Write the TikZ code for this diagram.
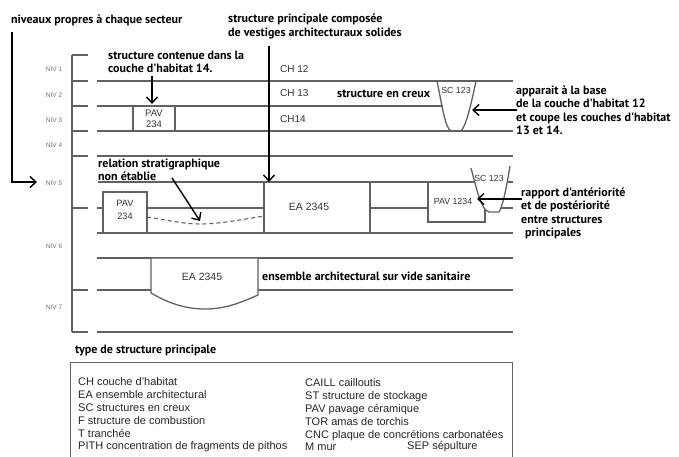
\documentclass[tikz,border=0pt]{standalone}
\usepackage{fontspec}
\setmainfont{Liberation Sans}
\newfontfamily\bfont{PT Sans}
\usetikzlibrary{arrows.meta}
\tikzset{
  ln/.style={draw=black!62, line width=1.3pt},
  thinln/.style={draw=black!60, line width=0.9pt},
  arr/.style={draw=black, line width=1.4pt, -{Straight Barb[length=6pt,width=11pt,line width=1.4pt]}},
  bt/.style={font=\bfont\bfseries\fontsize{12}{13.5}\selectfont, inner sep=0pt, anchor=west, align=left},
  niv/.style={font=\fontsize{6.5}{7}\selectfont, text=black!55, inner sep=0pt},
  lab/.style={font=\fontsize{9}{10}\selectfont, text=black!80, inner sep=0pt},
  leg/.style={font=\fontsize{11}{12.8}\selectfont, text=black!85, inner sep=0pt, anchor=west, align=left},
  whitebox/.style={ln, fill=white}
}
\begin{document}
\begin{tikzpicture}[x=1pt,y=-1pt]
\useasboundingbox[fill=white] (0,0) rectangle (679,457);

% bracket of levels
\draw[ln] (72,55) -- (72,332);
\foreach \yy in {55,81,106,131,156,208,290,332}
  \draw[ln] (72,\yy) -- (88,\yy);

% horizontal layer lines
\draw[ln] (97,81) -- (513,81);
\draw[ln] (97,106) -- (443,106);
\draw[ln] (97,131) -- (513,131);
\draw[ln] (97,156) -- (513,156);
\draw[ln] (98,182) -- (513,182);
\draw[ln] (97,208) -- (513,208);
\draw[ln] (97,233) -- (513,233);
\draw[ln] (97,258) -- (513,258);
\draw[ln] (97,290) -- (513,290);
\draw[ln] (97,332) -- (513,332);

% NIV labels
\node[niv] (n1) at (54,69) {NIV 1};
\node[niv] (n2) at (54,95) {NIV 2};
\node[niv] (n3) at (54,120) {NIV 3};
\node[niv] (n4) at (54,145) {NIV 4};
\node[niv] (n5) at (54,183) {NIV 5};
\node[niv] (n6) at (54,246) {NIV 6};
\node[niv] (n7) at (54,307) {NIV 7};

% CH labels
\node[lab, anchor=west, font=\fontsize{10}{11}\selectfont] (ch12) at (280,69) {CH 12};
\node[lab, anchor=west, font=\fontsize{10}{11}\selectfont] (ch13) at (280,93) {CH 13};
\node[lab, anchor=west, font=\fontsize{10}{11}\selectfont] (ch14) at (280,119) {CH14};

% upper PAV 234
\draw[whitebox] (133,106) rectangle (175,131);
\node[lab, align=center, font=\fontsize{9.5}{11}\selectfont] (pav1) at (154,119) {PAV\\234};

% SC 123 (first)
\draw[ln] (437,81) .. controls (442,105) and (445,128) .. (451,131) -- (461,131)
  .. controls (466,126) and (471,105) .. (476,81);
\node[lab, font=\fontsize{8.8}{10}\selectfont] (sc1) at (456,90) {SC 123};

% lower PAV 234
\draw[whitebox] (103,192) rectangle (147,233);
\node[lab, align=center, font=\fontsize{9.2}{13}\selectfont] (pav2) at (125,210) {PAV\\234};

% dashed relation
\draw[ln, line width=1.1pt, dash pattern=on 4pt off 3pt] (147,217) .. controls (172,221) and (185,224) .. (200,224)
  .. controls (220,224) and (245,219) .. (264,216);

% EA 2345 upper
\draw[whitebox] (264,182) rectangle (370,233);
\node[lab, font=\fontsize{10.5}{12}\selectfont] (ea1) at (309,207) {EA 2345};

% PAV 1234 and SC 123 (second)
\draw[whitebox] (428,182) rectangle (485,222);
\draw[ln, fill=white] (471,168) .. controls (477,190) and (481,210) .. (489,212) -- (499,212)
  .. controls (503,205) and (506,190) .. (510,166);
\node[lab, font=\fontsize{8.8}{10}\selectfont] (pav3) at (453,201) {PAV 1234};
\node[lab, font=\fontsize{8.8}{10}\selectfont] (sc2) at (489,178) {SC 123};

% EA 2345 lower (vide sanitaire)
\draw[whitebox] (151,258) -- (258,258) -- (258,295)
  .. controls (240,303) and (225,309) .. (205,309)
  .. controls (185,309) and (168,303) .. (151,293) -- cycle;
\node[lab, font=\fontsize{10.5}{12}\selectfont] (ea2) at (202,277) {EA 2345};

% bold annotations
\node[bt] (tniv) at (11,20) {niveaux propres à chaque secteur};
\node[bt] (tsp) at (228,26.5) {structure principale composée\\de vestiges architecturaux solides};
\node[bt] (tsc) at (108,62) {structure contenue dans la\\couche d'habitat 14.};
\node[bt] (tcreux) at (337,94) {structure en creux};
\node[bt] (tapp) at (516,110.5) {apparait à la base\\de la couche d'habitat 12\\et coupe les couches d'habitat\\13 et 14.};
\node[bt] (trel) at (98,170) {relation stratigraphique\\non établie};
\node[bt] (trap) at (521,213.5) {rapport d'antériorité\\et de postériorité\\entre structures\\\hspace*{4pt}principales};
\node[bt] (tens) at (262,276) {ensemble architectural sur vide sanitaire};
\node[bt] (ttype) at (75,350) {type de structure principale};

% arrows
\coordinate (a1s) at (12,32);
\coordinate (a1e) at (37,182);
\draw[arr] (a1s) |- (a1e);
\coordinate (a2s) at (269,46);
\coordinate (a2e) at (269,182);
\draw[arr] (a2s) -- (a2e);
\coordinate (a3s) at (152,76);
\coordinate (a3e) at (152,104);
\draw[arr] (a3s) -- (a3e);
\coordinate (a4s) at (172,178);
\coordinate (a4e) at (200,221);
\draw[arr] (a4s) -- (a4e);
\coordinate (a5s) at (517,110);
\coordinate (a5e) at (472,110);
\draw[arr] (a5s) -- (a5e);
\coordinate (a6s) at (522,199);
\coordinate (a6e) at (477,199);
\draw[arr] (a6s) -- (a6e);

% legend box
\draw[thinln] (70,457) -- (70,362) -- (512,362) -- (512,457);
\node[leg] (legl) at (78,415) {CH couche d'habitat\\EA ensemble architectural\\SC structures en creux\\F structure de combustion\\T tranchée\\PITH concentration de fragments de pithos};
\node[leg] (legr) at (305,415) {CAILL cailloutis\\ST structure de stockage\\PAV pavage céramique\\TOR amas de torchis\\CNC plaque de concrétions carbonatées\\M mur};
\node[leg] (legsep) at (407,447) {SEP sépulture};
\end{tikzpicture}
\end{document}
